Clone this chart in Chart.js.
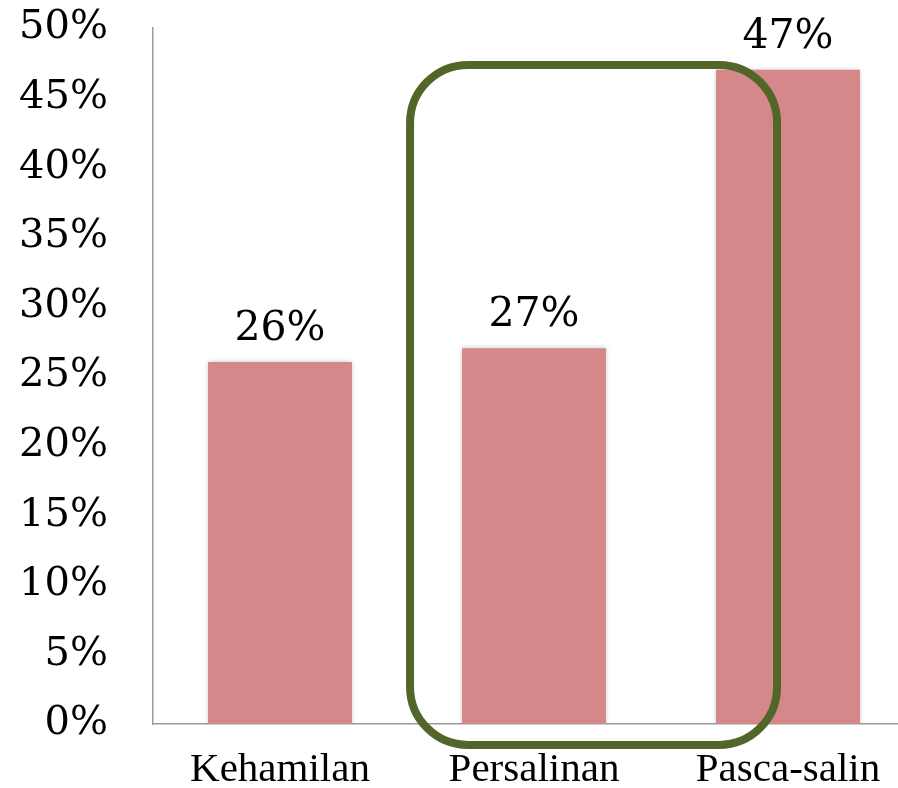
<!DOCTYPE html>
<html>
<head>
<meta charset="utf-8">
<script src="https://cdn.jsdelivr.net/npm/chart.js@4.4.1/dist/chart.umd.min.js"></script>
<style>
  html, body { margin: 0; padding: 0; background: #fff; overflow: hidden; }
  #wrap { width: 898px; height: 788px; overflow: hidden; }
  #wrap div { width: 915px; height: 834px; margin-top: -41px; }
</style>
</head>
<body>
<div id="wrap"><div><canvas id="chart"></canvas></div></div>
<script>
// chart data
const categories = ['Kehamilan', 'Persalinan', 'Pasca-salin'];
const values = [26, 27, 47];
const yTicks = [0, 5, 10, 15, 20, 25, 30, 35, 40, 45, 50];

// highlight box, in scale units (category index / percent)
const boxX = [0.512, 1.957];
const boxY = [-1.5, 47.35];

const barColor = '#d4888a';
const boxColor = '#53662a';
const axisColor = '#9a9a9a';

// labels on top of bars
const valueLabels = {
    id: 'valueLabels',
    afterDatasetsDraw(chart) {
        const ctx = chart.ctx;
        const meta = chart.getDatasetMeta(0);
        ctx.save();
        ctx.fillStyle = '#000';
        ctx.font = '41px "DejaVu Serif"';
        ctx.textAlign = 'center';
        ctx.textBaseline = 'alphabetic';
        meta.data.forEach((bar, i) => {
            ctx.fillText(values[i] + '%', bar.x, bar.y - 22);
        });
        ctx.restore();
    }
};

// soft shadow at bar edges
const barShadow = {
    id: 'barShadow',
    beforeDatasetsDraw(chart) {
        const ctx = chart.ctx;
        ctx.save();
        ctx.shadowColor = 'rgba(0,0,0,0.25)';
        ctx.shadowBlur = 5;
    },
    afterDatasetsDraw(chart) {
        chart.ctx.restore();
    }
};

// rounded highlight rectangle
const highlightBox = {
    id: 'highlightBox',
    afterDraw(chart) {
        const { ctx, scales: { x, y } } = chart;
        const x0 = x.getPixelForValue(boxX[0]);
        const x1 = x.getPixelForValue(boxX[1]);
        const y0 = y.getPixelForValue(boxY[1]);
        const y1 = y.getPixelForValue(boxY[0]);
        ctx.save();
        ctx.strokeStyle = boxColor;
        ctx.lineWidth = 8;
        ctx.beginPath();
        ctx.roundRect(x0, y0, x1 - x0, y1 - y0, 58);
        ctx.stroke();
        ctx.restore();
    }
};

new Chart(document.getElementById('chart'), {
    type: 'bar',
    data: {
        labels: categories,
        datasets: [{
            data: values,
            backgroundColor: barColor,
            borderWidth: 0,
            categoryPercentage: 1,
            barPercentage: 0.567
        }]
    },
    options: {
        responsive: true,
        maintainAspectRatio: false,
        animation: false,
        layout: { padding: { top: 28, left: 0, right: 0, bottom: 0 } },
        plugins: {
            legend: { display: false },
            tooltip: { enabled: false }
        },
        scales: {
            x: {
                grid: { display: false, drawTicks: false },
                border: { color: axisColor, width: 1.5 },
                ticks: {
                    color: '#000',
                    font: { family: 'Liberation Serif', size: 41 },
                    padding: 22,
                    maxRotation: 0
                },
                afterFit(scale) { scale.height = 65; }
            },
            y: {
                min: 0,
                max: 50,
                afterBuildTicks(scale) { scale.ticks = yTicks.map(v => ({ value: v })); },
                grid: { display: false, drawTicks: false },
                border: { color: axisColor, width: 1.5 },
                ticks: {
                    color: '#000',
                    font: { family: 'DejaVu Serif', size: 40 },
                    padding: 45,
                    callback: v => v + '%'
                },
                afterFit(scale) { scale.width = 153; }
            }
        }
    },
    plugins: [barShadow, valueLabels, highlightBox]
});
</script>
</body>
</html>
